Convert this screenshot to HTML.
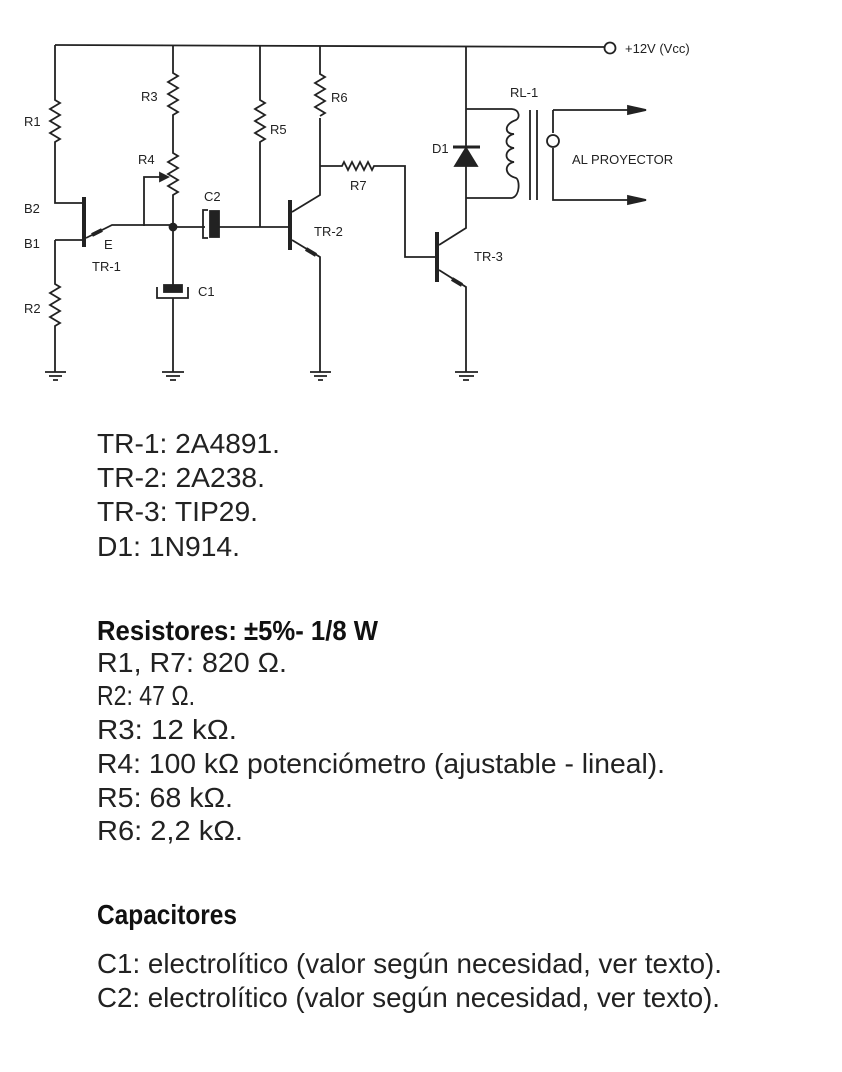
<!DOCTYPE html>
<html><head><meta charset="utf-8"><style>
html,body{margin:0;padding:0;background:#fff;}
svg{display:block;}
.t{font-family:"Liberation Sans Narrow","Liberation Sans",sans-serif;font-size:28px;fill:#222;}
.b{font-weight:bold;fill:#111;}
.s{font-family:"Liberation Sans",sans-serif;font-size:13px;fill:#222;}
</style></head><body>
<svg width="842" height="1072" viewBox="0 0 842 1072" xmlns="http://www.w3.org/2000/svg">
<g stroke="#222" stroke-width="1.8" fill="none">
<path d="M55 45 L604 47"/>
<circle cx="610" cy="48" r="5.5" fill="#fff"/>
<path d="M55 45 V100 l5 3 l-10 6 l10 6 l-10 6 l10 6 l-10 6 l10 6 l-5 3 V203 H84"/>
<path d="M55 240 H84"/>
<path d="M55 240 V284 l5 3 l-10 6 l10 6 l-10 6 l10 6 l-10 6 l10 6 l-5 3 V372"/>
<path d="M45 372 H66 M49 376 H62 M53 380 H58"/>
<path d="M84 197 V247" stroke-width="4"/>
<path d="M86 238 L112 225 H173"/>
<path d="M92 235 L102 230" stroke-width="4"/>
<path d="M173 46 V73 l5 3 l-10 6 l10 6 l-10 6 l10 6 l-10 6 l10 6 l-5 3 V153 l5 3 l-10 6 l10 6 l-10 6 l10 6 l-10 6 l10 6 l-5 3 V227"/>
<path d="M144 226 V177 H164"/>
<path d="M160 173 L168 177 L160 181 Z" fill="#222"/>
<circle cx="173" cy="227" r="3.5" fill="#222"/>
<path d="M173 227 V285"/>
<rect x="164" y="285" width="18" height="7" fill="#222"/>
<path d="M157 287 V298 H188 V287"/>
<path d="M173 298 V372"/>
<path d="M162 372 H184 M166 376 H180 M170 380 H176"/>
<path d="M173 227 H205"/>
<path d="M208 210 H203 V238 H208"/>
<rect x="210" y="211" width="9" height="26" fill="#222"/>
<path d="M219 227 H290"/>
<path d="M260 46 V100 l5 3 l-10 6 l10 6 l-10 6 l10 6 l-10 6 l10 6 l-5 3 V227"/>
<path d="M290 200 V250" stroke-width="4"/>
<path d="M292 212 L320 195 V118"/>
<path d="M292 240 L320 257 V372"/>
<path d="M306 249 L316 255" stroke-width="4"/>
<path d="M310 372 H331 M314 376 H327 M318 380 H323"/>
<path d="M320 46 V74 l5 3 l-10 6 l10 6 l-10 6 l10 6 l-10 6 l10 6 l-5 3"/>
<path d="M320 166 H342 l2 -4 l4 8 l4 -8 l4 8 l4 -8 l4 8 l4 -8 l4 8 l2 -4 H405 V257 H437"/>
<path d="M437 232 V282" stroke-width="4"/>
<path d="M439 245 L466 228 V46"/>
<path d="M439 270 L466 287 V372"/>
<path d="M452 279 L462 285" stroke-width="4"/>
<path d="M455 372 H478 M459 376 H474 M463 380 H469"/>
<path d="M453 147 H480" stroke-width="3"/>
<path d="M455 166 L466 148 L477 166 Z" fill="#222"/>
<path d="M466 109 H512 M466 198 H512"/>
<path d="M512 109 C520 110 520 118 516 120 C504 124 504 134 514 134 C504 136 504 147 514 148 C504 150 504 161 514 162 C504 164 504 175 516 178 C520 180 520 196 512 198"/>
<path d="M530 110 V200 M537 110 V200"/>
<path d="M553 110 H628 M553 110 V133 M553 148 V200 H628"/>
<circle cx="553" cy="141" r="6" fill="#fff"/>
<path d="M628 106 L646 110 L628 114 Z M628 196 L646 200 L628 204 Z" fill="#222"/>
</g>
<g class="s">
<text x="625" y="53">+12V (Vcc)</text>
<text x="24" y="126">R1</text>
<text x="24" y="213">B2</text>
<text x="24" y="248">B1</text>
<text x="24" y="313">R2</text>
<text x="104" y="249">E</text>
<text x="92" y="271">TR-1</text>
<text x="141" y="101">R3</text>
<text x="138" y="164">R4</text>
<text x="204" y="201">C2</text>
<text x="198" y="296">C1</text>
<text x="270" y="134">R5</text>
<text x="331" y="102">R6</text>
<text x="350" y="190">R7</text>
<text x="314" y="236">TR-2</text>
<text x="474" y="261">TR-3</text>
<text x="432" y="153">D1</text>
<text x="510" y="97">RL-1</text>
<text x="572" y="164">AL PROYECTOR</text>
</g>
<g class="t">
<text x="97" y="453" textLength="183" lengthAdjust="spacingAndGlyphs">TR-1: 2A4891.</text>
<text x="97" y="487" textLength="168" lengthAdjust="spacingAndGlyphs">TR-2: 2A238.</text>
<text x="97" y="521" textLength="161" lengthAdjust="spacingAndGlyphs">TR-3: TIP29.</text>
<text x="97" y="556" textLength="143" lengthAdjust="spacingAndGlyphs">D1: 1N914.</text>
<text class="t b" x="97" y="640" textLength="281" lengthAdjust="spacingAndGlyphs">Resistores: ±5%- 1/8 W</text>
<text x="97" y="672" textLength="190" lengthAdjust="spacingAndGlyphs">R1, R7: 820 Ω.</text>
<text x="97" y="705" textLength="98" lengthAdjust="spacingAndGlyphs">R2: 47 Ω.</text>
<text x="97" y="739" textLength="140" lengthAdjust="spacingAndGlyphs">R3: 12 kΩ.</text>
<text x="97" y="773" textLength="568" lengthAdjust="spacingAndGlyphs">R4: 100 kΩ potenciómetro (ajustable - lineal).</text>
<text x="97" y="807" textLength="136" lengthAdjust="spacingAndGlyphs">R5: 68 kΩ.</text>
<text x="97" y="840" textLength="146" lengthAdjust="spacingAndGlyphs">R6: 2,2 kΩ.</text>
<text class="t b" x="97" y="924" textLength="140" lengthAdjust="spacingAndGlyphs">Capacitores</text>
<text x="97" y="973" textLength="625" lengthAdjust="spacingAndGlyphs">C1: electrolítico (valor según necesidad, ver texto).</text>
<text x="97" y="1007" textLength="623" lengthAdjust="spacingAndGlyphs">C2: electrolítico (valor según necesidad, ver texto).</text>
</g>
</svg>
</body></html>
